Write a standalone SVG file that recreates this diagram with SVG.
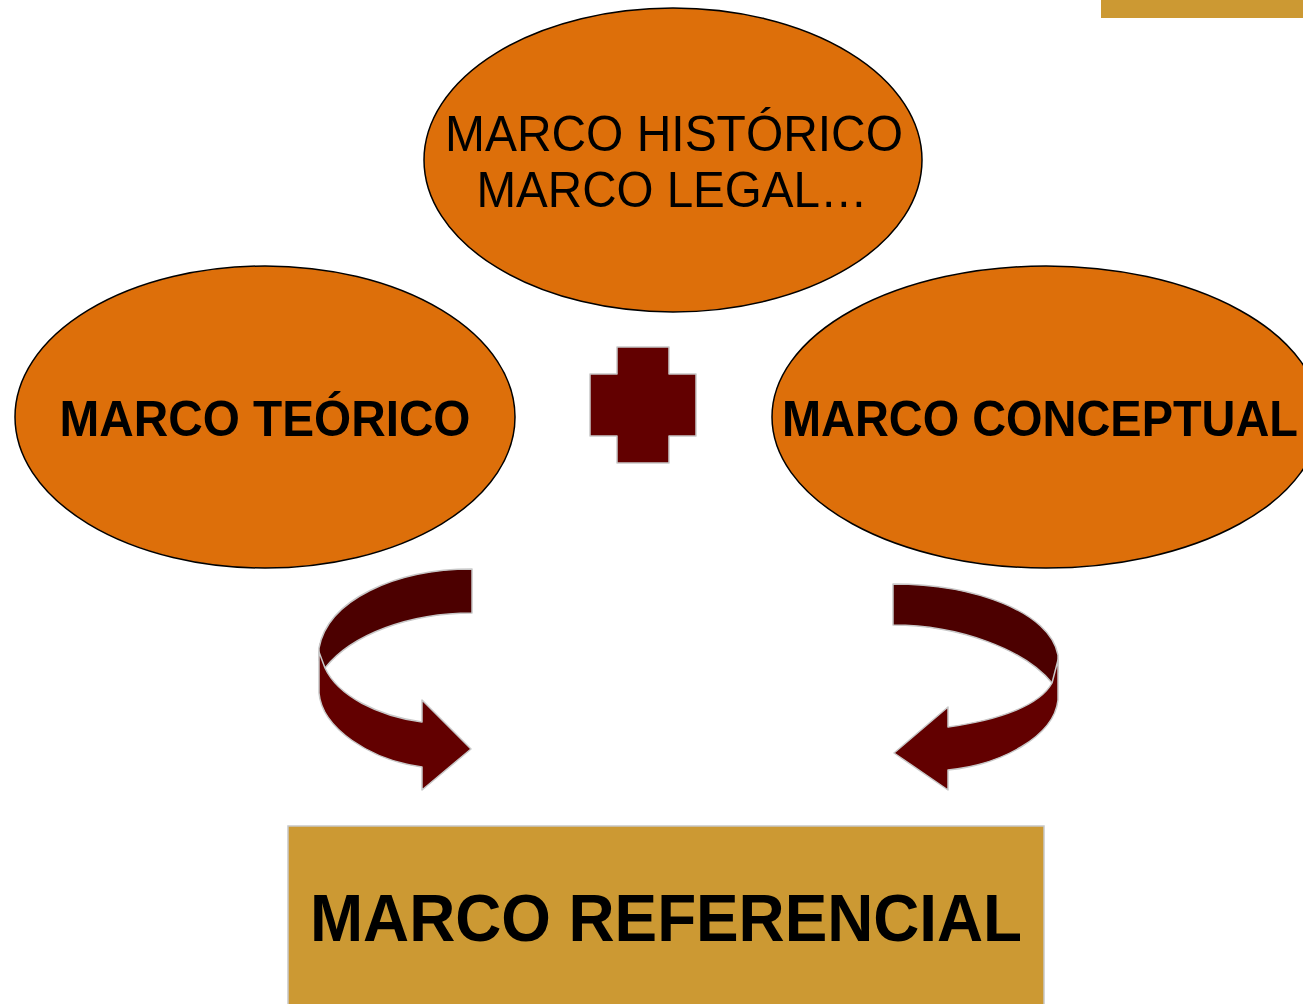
<svg xmlns="http://www.w3.org/2000/svg" width="1303" height="1004" viewBox="0 0 1303 1004">
<style>
.oval{fill:#DD6F0A;stroke:#000;stroke-width:1.5}
.t{font-family:"Liberation Sans",Arial,sans-serif;fill:#000;text-anchor:middle}
.b{font-weight:bold}
.back{fill:#4C0000;stroke:#C8C8C8;stroke-width:1.5;stroke-linejoin:round}
.front{fill:#620000;stroke:#C8C8C8;stroke-width:1.5;stroke-linejoin:round}
</style>
<rect width="1303" height="1004" fill="#fff"/>
<rect x="1101" y="0" width="202" height="18" fill="#CC9933"/>
<g id="historico">
<ellipse class="oval" cx="673" cy="160" rx="249" ry="152"/>
<text class="t" x="674" y="151" font-size="50" textLength="458" lengthAdjust="spacingAndGlyphs">MARCO HISTÓRICO</text>
<text class="t" x="672" y="207" font-size="50" textLength="391" lengthAdjust="spacingAndGlyphs">MARCO LEGAL…</text>
</g>
<g id="teorico">
<ellipse class="oval" cx="265" cy="417" rx="250" ry="151"/>
<text class="t b" x="265" y="436" font-size="50" textLength="411" lengthAdjust="spacingAndGlyphs">MARCO TEÓRICO</text>
</g>
<g id="conceptual">
<ellipse class="oval" cx="1046" cy="417" rx="274" ry="151"/>
<text class="t b" x="1040" y="436" font-size="50" textLength="516" lengthAdjust="spacingAndGlyphs">MARCO CONCEPTUAL</text>
</g>
<g id="plus">
<path class="front" d="M617,347 H669 V374 H696 V436 H669 V463 H617 V436 H590 V374 H617 Z"/>
</g>
<g id="referencial">
<rect x="288" y="826" width="756" height="190" fill="#CC9933" stroke="#C8C8C8" stroke-width="1.5"/>
<text class="t b" x="666" y="941" font-size="67" textLength="712" lengthAdjust="spacingAndGlyphs">MARCO REFERENCIAL</text>
</g>
<g id="connectors">
<path class="back" d="M472,569 C395,569 328,600 319,648 L319,660 L325,668 C352,634 410,613 472,613 Z"/>
<path class="front" d="M319,652 L319,693 C322,728 370,760 422,767 L422,790 L471,749 L422,700 L422,722 C378,716 338,696 325,668 Z"/>
<path class="back" d="M893,584 C975,584 1050,612 1058,655 L1058,672 L1052,683 C1025,650 960,625 893,625 Z"/>
<path class="front" d="M1058,660 L1058,700 C1054,737 1000,765 948,770 L948,790 L894,753 L948,707 L948,727 C1000,720 1040,705 1052,683 Z"/>
</g>
</svg>
